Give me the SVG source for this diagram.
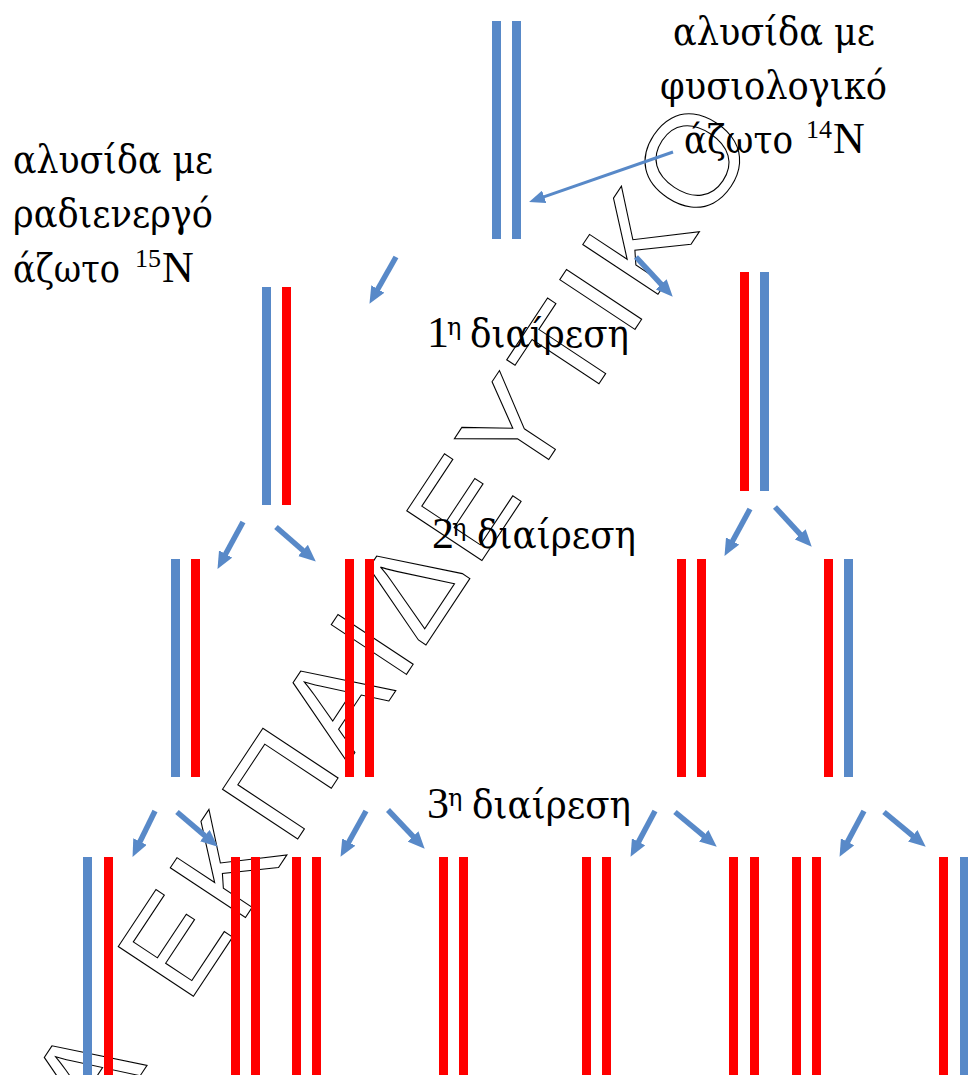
<svg xmlns="http://www.w3.org/2000/svg" width="968" height="1075" viewBox="0 0 968 1075">
<style>
.b{fill:#5889C8}
.r{fill:#FF0000}
.t{font-family:"Liberation Serif","Times New Roman",serif;font-size:44px;fill:#000}
.g{font-family:"DejaVu Serif",serif;font-size:39px;fill:#000}
.sup{font-family:"Liberation Serif","Times New Roman",serif;font-size:26px}
.supg{font-family:"DejaVu Serif",serif;font-size:24px}
.wm{font-family:"Liberation Sans",Arial,sans-serif;font-size:131px;fill:none;stroke:#000;stroke-width:1.1;letter-spacing:7px}
.a{stroke:#5889C8;stroke-width:5.5;fill:none;marker-end:url(#ah)}
.a2{stroke:#5889C8;stroke-width:3;fill:none;marker-end:url(#ah2)}
</style>
<defs>
<marker id="ah" markerUnits="userSpaceOnUse" markerWidth="17" markerHeight="15" refX="8" refY="7.5" orient="auto"><path d="M0,0 L17,7.5 L0,15 z" fill="#5889C8"/></marker>
<marker id="ah2" markerUnits="userSpaceOnUse" markerWidth="16" markerHeight="13" refX="8" refY="6.5" orient="auto"><path d="M0,0 L16,6.5 L0,13 z" fill="#5889C8"/></marker>
</defs>
<rect width="968" height="1075" fill="#fff"/>
<g id="watermark">
<text class="wm" transform="translate(99,1138) rotate(-56.5)">Α</text>
<text class="wm" transform="translate(187.5,1005.3) rotate(-56.5)">ΕΚΠΑΙΔΕΥΤΙΚΟ</text>
</g>
<g id="gen0">
<rect class="b" x="492" y="21" width="9" height="218"/>
<rect class="b" x="512" y="21" width="9" height="218"/>
</g>
<g id="gen1-left">
<rect class="b" x="262" y="287" width="9" height="218"/>
<rect class="r" x="282" y="287" width="9" height="218"/>
</g>
<g id="gen1-right">
<rect class="r" x="740" y="272" width="9" height="219"/>
<rect class="b" x="760" y="272" width="9" height="219"/>
</g>
<g id="gen2-a"><rect class="b" x="171" y="559" width="9" height="218"/><rect class="r" x="191" y="559" width="9" height="218"/></g>
<g id="gen2-b"><rect class="r" x="345" y="559" width="9" height="218"/><rect class="r" x="365" y="559" width="9" height="218"/></g>
<g id="gen2-c"><rect class="r" x="677" y="559" width="9" height="218"/><rect class="r" x="697" y="559" width="9" height="218"/></g>
<g id="gen2-d"><rect class="r" x="824" y="559" width="9" height="218"/><rect class="b" x="844" y="559" width="9" height="218"/></g>
<g id="gen3-a"><rect class="b" x="83" y="857" width="9" height="218"/><rect class="r" x="104" y="857" width="9" height="218"/></g>
<g id="gen3-b"><rect class="r" x="231" y="857" width="9" height="218"/><rect class="r" x="251" y="857" width="9" height="218"/></g>
<g id="gen3-c"><rect class="r" x="292" y="857" width="9" height="218"/><rect class="r" x="312" y="857" width="9" height="218"/></g>
<g id="gen3-d"><rect class="r" x="439" y="857" width="9" height="218"/><rect class="r" x="459" y="857" width="9" height="218"/></g>
<g id="gen3-e"><rect class="r" x="582" y="857" width="9" height="218"/><rect class="r" x="602" y="857" width="9" height="218"/></g>
<g id="gen3-f"><rect class="r" x="729" y="857" width="9" height="218"/><rect class="r" x="750" y="857" width="9" height="218"/></g>
<g id="gen3-g"><rect class="r" x="792" y="857" width="9" height="218"/><rect class="r" x="812" y="857" width="9" height="218"/></g>
<g id="gen3-h"><rect class="r" x="939" y="857" width="9" height="218"/><rect class="b" x="960" y="857" width="9" height="218"/></g>
<g id="connectors">
<line class="a2" x1="673" y1="152" x2="536.6" y2="199.4"/>
<line class="a" x1="396" y1="257" x2="373.9" y2="296"/>
<line class="a" x1="636" y1="257" x2="666.6" y2="290.1"/>
<line class="a" x1="243" y1="522" x2="221.8" y2="561"/>
<line class="a" x1="276" y1="527" x2="309" y2="555.7"/>
<line class="a" x1="750" y1="509" x2="728.8" y2="548"/>
<line class="a" x1="775" y1="507" x2="805.6" y2="540.1"/>
<line class="a" x1="155" y1="811" x2="136.5" y2="848.8"/>
<line class="a" x1="177" y1="812" x2="210.9" y2="840.8"/>
<line class="a" x1="366" y1="811" x2="344.9" y2="849"/>
<line class="a" x1="388" y1="810" x2="418.5" y2="842.2"/>
<line class="a" x1="655" y1="811" x2="634.8" y2="848.9"/>
<line class="a" x1="675" y1="812" x2="709.8" y2="840.9"/>
<line class="a" x1="864" y1="811" x2="843.8" y2="848.9"/>
<line class="a" x1="884" y1="812" x2="918.8" y2="840.9"/>
</g>
<g id="label-14N">
<text class="g" x="673" y="45" textLength="202" lengthAdjust="spacingAndGlyphs">αλυσίδα με</text>
<text class="g" x="660" y="99" textLength="227" lengthAdjust="spacingAndGlyphs">φυσιολογικό</text>
<text class="g" x="684" y="153"><tspan textLength="109" lengthAdjust="spacingAndGlyphs">άζωτο</tspan><tspan class="sup" x="806" y="138">14</tspan><tspan class="t" x="833" y="153">N</tspan></text>
</g>
<g id="label-15N">
<text class="g" x="13" y="173" textLength="200" lengthAdjust="spacingAndGlyphs">αλυσίδα με</text>
<text class="g" x="13" y="227" textLength="200" lengthAdjust="spacingAndGlyphs">ραδιενεργό</text>
<text class="g" x="13" y="282"><tspan textLength="107" lengthAdjust="spacingAndGlyphs">άζωτο</tspan><tspan class="sup" x="135" y="267">15</tspan><tspan class="t" x="162" y="282">N</tspan></text>
</g>
<g id="division-labels">
<text class="t" x="427" y="347">1<tspan class="supg" x="447" y="335">η</tspan><tspan class="g" x="470" y="347" textLength="159" lengthAdjust="spacingAndGlyphs">διαίρεση</tspan></text>
<text class="t" x="432" y="548">2<tspan class="supg" x="452" y="536">η</tspan><tspan class="g" x="477" y="548" textLength="159" lengthAdjust="spacingAndGlyphs">διαίρεση</tspan></text>
<text class="t" x="427" y="818">3<tspan class="supg" x="448" y="806">η</tspan><tspan class="g" x="472" y="818" textLength="159" lengthAdjust="spacingAndGlyphs">διαίρεση</tspan></text>
</g>
</svg>
